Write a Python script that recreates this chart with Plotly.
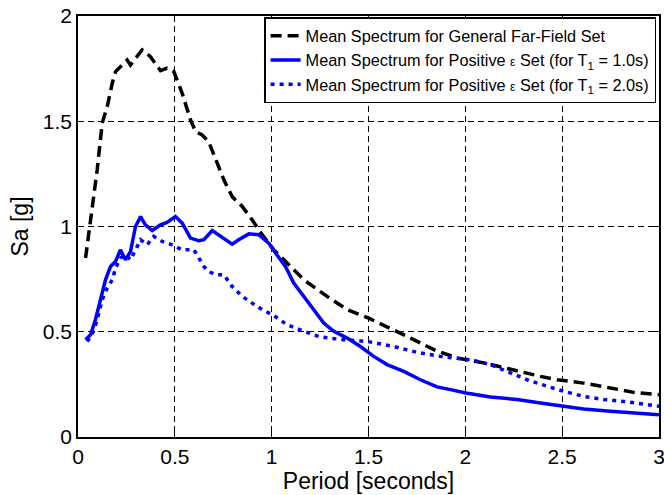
import plotly.graph_objects as go

# Mean spectrum for general far-field set
far_T = [0.039, 0.099, 0.125, 0.151, 0.177, 0.194, 0.219, 0.254, 0.271, 0.297, 0.331, 0.374,
         0.426, 0.46, 0.495, 0.538, 0.581, 0.607, 0.641, 0.675, 0.71, 0.753, 0.796, 0.848,
         0.899, 0.933, 1.011, 1.071, 1.166, 1.286, 1.39, 1.501, 1.613, 1.717, 1.837, 1.958,
         2.095, 2.267, 2.388, 2.474, 2.611, 2.749, 2.869, 3.0]
far_Sa = [0.850, 1.269, 1.491, 1.570, 1.681, 1.736, 1.759, 1.791, 1.767, 1.799, 1.839, 1.807,
          1.740, 1.752, 1.736, 1.633, 1.506, 1.451, 1.435, 1.403, 1.317, 1.222, 1.142, 1.095,
          1.032, 0.984, 0.889, 0.834, 0.747, 0.668, 0.605, 0.565, 0.518, 0.470, 0.415, 0.375,
          0.352, 0.312, 0.288, 0.272, 0.256, 0.233, 0.212, 0.201]

# Mean spectrum for positive epsilon set (T1 = 1.0 s)
pos1_T = [0.039, 0.065, 0.09, 0.116, 0.142, 0.168, 0.194, 0.219, 0.245, 0.271, 0.297, 0.323,
          0.348, 0.383, 0.426, 0.46, 0.503, 0.538, 0.581, 0.624, 0.65, 0.693, 0.744, 0.796,
          0.830, 0.882, 0.933, 0.985, 1.02, 1.071, 1.114, 1.166, 1.217, 1.269, 1.321, 1.39,
          1.458, 1.527, 1.596, 1.682, 1.768, 1.854, 1.923, 2.004, 2.13, 2.267, 2.388, 2.503,
          2.611, 2.749, 2.869, 3.0]
pos1_Sa = [0.462, 0.486, 0.557, 0.652, 0.747, 0.810, 0.834, 0.889, 0.842, 0.881, 1.000, 1.047,
           1.008, 0.981, 1.008, 1.019, 1.047, 1.016, 0.945, 0.932, 0.937, 0.981, 0.950, 0.916,
           0.937, 0.965, 0.961, 0.921, 0.874, 0.810, 0.731, 0.668, 0.605, 0.541, 0.502, 0.470,
           0.430, 0.383, 0.344, 0.312, 0.272, 0.238, 0.225, 0.209, 0.190, 0.178, 0.162, 0.146,
           0.133, 0.122, 0.114, 0.106]

# Mean spectrum for positive epsilon set (T1 = 2.0 s)
pos2_T = [0.047, 0.073, 0.099, 0.125, 0.151, 0.177, 0.194, 0.219, 0.245, 0.271, 0.297, 0.323,
          0.357, 0.391, 0.435, 0.486, 0.538, 0.598, 0.650, 0.675, 0.710, 0.753, 0.796, 0.848,
          0.899, 0.951, 1.011, 1.080, 1.166, 1.252, 1.373, 1.493, 1.630, 1.751, 1.871, 1.966,
          2.026, 2.13, 2.216, 2.319, 2.422, 2.508, 2.611, 2.714, 2.818, 3.0]
pos2_Sa = [0.454, 0.486, 0.557, 0.652, 0.708, 0.747, 0.803, 0.850, 0.866, 0.842, 0.889, 0.937,
           0.913, 0.953, 0.929, 0.913, 0.889, 0.890, 0.810, 0.786, 0.771, 0.771, 0.715, 0.668,
           0.636, 0.605, 0.577, 0.533, 0.502, 0.475, 0.462, 0.454, 0.430, 0.402, 0.383, 0.371,
           0.367, 0.344, 0.312, 0.272, 0.241, 0.217, 0.193, 0.178, 0.169, 0.146]

x_ticks = [0, 0.5, 1, 1.5, 2, 2.5, 3]
x_ticklabels = ["0", "0.5", "1", "1.5", "2", "2.5", "3"]
y_ticks = [0, 0.5, 1, 1.5, 2]
y_ticklabels = ["0", "0.5", "1", "1.5", "2"]

names = [
    "Mean Spectrum for General Far-Field Set",
    "Mean Spectrum for Positive <span style='font-size:12px'>ε</span> Set (for T<sub>1</sub> = 1.0s)",
    "Mean Spectrum for Positive <span style='font-size:12px'>ε</span> Set (for T<sub>1</sub> = 2.0s)",
]

fig = go.Figure()
fig.add_trace(go.Scatter(x=far_T, y=far_Sa, mode="lines", name=names[0],
                         line=dict(color="black", width=3.5, dash="11px,6px")))
fig.add_trace(go.Scatter(x=pos1_T, y=pos1_Sa, mode="lines", name=names[1],
                         line=dict(color="#0000ff", width=3.5)))
fig.add_trace(go.Scatter(x=pos2_T, y=pos2_Sa, mode="lines", name=names[2],
                         line=dict(color="#0000ff", width=3.5, dash="4px,5px")))

axis_common = dict(
    showline=True, linecolor="black", linewidth=1.5, mirror="ticks",
    ticks="inside", ticklen=5, tickcolor="black",
    showgrid=True, gridcolor="black", gridwidth=1, griddash="6px,4px",
    zeroline=False, automargin=False, ticklabeloverflow="allow",
    tickfont=dict(family="Liberation Sans, Arial", size=21, color="black"),
)

fig.update_xaxes(range=[0, 3], tickvals=x_ticks, ticktext=x_ticklabels,
                 title=dict(text="Period [seconds]", standoff=2,
                            font=dict(family="Liberation Sans, Arial", size=23, color="black")),
                 **axis_common)
fig.update_yaxes(range=[0, 2], tickvals=y_ticks, ticktext=y_ticklabels,
                 title=dict(text="Sa [g]", standoff=8,
                            font=dict(family="Liberation Sans, Arial", size=23, color="black")),
                 **axis_common)

fig.update_layout(
    width=664, height=495,
    margin=dict(l=78, r=5, t=16, b=58),
    paper_bgcolor="white", plot_bgcolor="white",
    showlegend=True,
    legend=dict(x=0.995, y=0.997, xanchor="right", yanchor="top",
                bgcolor="white", bordercolor="black", borderwidth=1.5,
                font=dict(family="Liberation Sans, Arial", size=16.3, color="black"),
                tracegroupgap=0, itemwidth=30),
)

fig.write_html("out.html")
